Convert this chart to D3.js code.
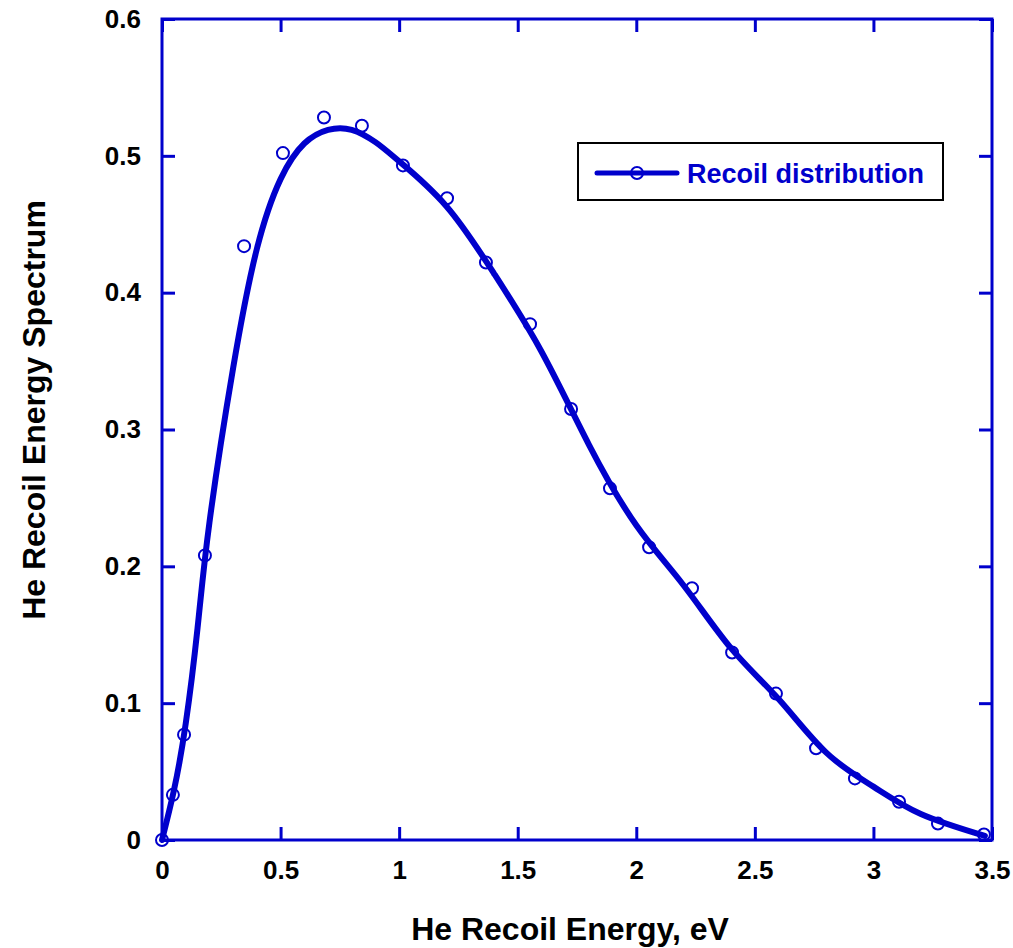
<!DOCTYPE html>
<html>
<head>
<meta charset="utf-8">
<script src="https://cdn.jsdelivr.net/npm/d3@7"></script>
<style>
  body { margin: 0; background: #fff; }
  text { font-family: "Liberation Sans", Arial, sans-serif; font-weight: bold; }
</style>
</head>
<body>
<div id="chart"></div>
<script>
// sampled recoil energies (eV) and spectrum values
const sampleE = [0, 0.046, 0.093, 0.181, 0.346, 0.510, 0.683, 0.843, 1.016, 1.202, 1.366, 1.552, 1.725,
    1.889, 2.054, 2.235, 2.404, 2.589, 2.758, 2.922, 3.108, 3.272, 3.466];
const sampleY = [0, 0.033, 0.077, 0.208, 0.434, 0.502, 0.528, 0.522, 0.493, 0.469, 0.422, 0.377, 0.315,
    0.257, 0.214, 0.184, 0.137, 0.107, 0.067, 0.045, 0.028, 0.012, 0.004];

// smooth distribution curve
const fitE = [0, 0.05, 0.1, 0.15, 0.2, 0.3, 0.4, 0.5, 0.6, 0.7, 0.8, 0.9, 1.0, 1.2, 1.4, 1.6, 1.8, 2.0,
    2.2, 2.4, 2.6, 2.8, 3.0, 3.2, 3.47];
const fitY = [0, 0.036, 0.085, 0.155, 0.232, 0.345, 0.432, 0.483, 0.509, 0.519, 0.519, 0.510, 0.496, 0.463,
    0.414, 0.357, 0.289, 0.230, 0.186, 0.140, 0.103, 0.064, 0.039, 0.019, 0.003];

const xTicks = [0, 0.5, 1, 1.5, 2, 2.5, 3, 3.5];
const yTicks = [0, 0.1, 0.2, 0.3, 0.4, 0.5, 0.6];

const xTitle = "He Recoil Energy, eV",
yTitle = "He Recoil Energy Spectrum",
legendLabel = "Recoil distribution";

const width = 1013,
height = 948,
blue = "#0000cc",
plotLeft = 162, plotRight = 992, plotTop = 19, plotBottom = 840,
tickLen = 13;

const svg = d3.select('#chart').append('svg')
    .attr('width', width)
    .attr('height', height);

const x = d3.scaleLinear().domain([0, 3.5]).range([plotLeft, plotRight]);
const y = d3.scaleLinear().domain([0, 0.6]).range([plotBottom, plotTop]);

const fmt = d => d === 0 ? "0" : d3.format("")(d);

// bottom axis with labels
const gx = svg.append('g')
    .attr('transform', `translate(0,${plotBottom})`)
    .call(d3.axisBottom(x).tickValues(xTicks).tickFormat(fmt).tickSize(-tickLen).tickSizeOuter(0).tickPadding(21));

// left axis with labels
const gy = svg.append('g')
    .attr('transform', `translate(${plotLeft},0)`)
    .call(d3.axisLeft(y).tickValues(yTicks).tickFormat(fmt).tickSize(-tickLen).tickSizeOuter(0).tickPadding(21));

// top and right ticks only
const gt = svg.append('g')
    .attr('transform', `translate(0,${plotTop})`)
    .call(d3.axisTop(x).tickValues(xTicks).tickFormat("").tickSize(-tickLen).tickSizeOuter(0));
const gr = svg.append('g')
    .attr('transform', `translate(${plotRight},0)`)
    .call(d3.axisRight(y).tickValues(yTicks).tickFormat("").tickSize(-tickLen).tickSizeOuter(0));

[gx, gy, gt, gr].forEach(g => {
    g.select('.domain').remove();
    g.selectAll('.tick line').attr('stroke', blue).attr('stroke-width', 3);
    g.selectAll('.tick text')
        .attr('fill', '#000')
        .style('font-size', '26px')
        .style('font-family', '"Liberation Sans", Arial, sans-serif')
        .style('font-weight', 'bold');
});

// frame
svg.append('rect')
    .attr('x', plotLeft)
    .attr('y', plotTop)
    .attr('width', plotRight - plotLeft)
    .attr('height', plotBottom - plotTop)
    .attr('fill', 'none')
    .attr('stroke', blue)
    .attr('stroke-width', 3);

// curve
const fit = fitE.map((e, i) => ({ e: e, v: fitY[i] }));
const line = d3.line()
    .x(d => x(d.e))
    .y(d => y(d.v))
    .curve(d3.curveNatural);

svg.append('path')
    .datum(fit)
    .attr('d', line)
    .attr('fill', 'none')
    .attr('stroke', blue)
    .attr('stroke-width', 6)
    .attr('stroke-linejoin', 'round')
    .attr('stroke-linecap', 'round');

// sample markers
const samples = sampleE.map((e, i) => ({ e: e, v: sampleY[i] }));
svg.append('g').selectAll('circle')
    .data(samples)
    .enter()
    .append('circle')
    .attr('cx', d => x(d.e))
    .attr('cy', d => y(d.v))
    .attr('r', 6)
    .attr('fill', 'none')
    .attr('stroke', blue)
    .attr('stroke-width', 2);

// axis titles
svg.append('text')
    .attr('x', 570)
    .attr('y', 940)
    .attr('text-anchor', 'middle')
    .style('font-size', '32px')
    .text(xTitle);

svg.append('text')
    .attr('transform', 'translate(45,410) rotate(-90)')
    .attr('text-anchor', 'middle')
    .style('font-size', '32px')
    .text(yTitle);

// legend
const legend = svg.append('g');
legend.append('rect')
    .attr('x', 578)
    .attr('y', 143)
    .attr('width', 365)
    .attr('height', 57)
    .attr('fill', '#fff')
    .attr('stroke', '#000')
    .attr('stroke-width', 2);
legend.append('line')
    .attr('x1', 597).attr('x2', 677)
    .attr('y1', 173).attr('y2', 173)
    .attr('stroke', blue)
    .attr('stroke-width', 5)
    .attr('stroke-linecap', 'round');
legend.append('circle')
    .attr('cx', 637).attr('cy', 173)
    .attr('r', 6)
    .attr('fill', 'none')
    .attr('stroke', blue)
    .attr('stroke-width', 2);
legend.append('text')
    .attr('x', 687)
    .attr('y', 183)
    .attr('fill', blue)
    .style('font-size', '27px')
    .text(legendLabel);
</script>
</body>
</html>
